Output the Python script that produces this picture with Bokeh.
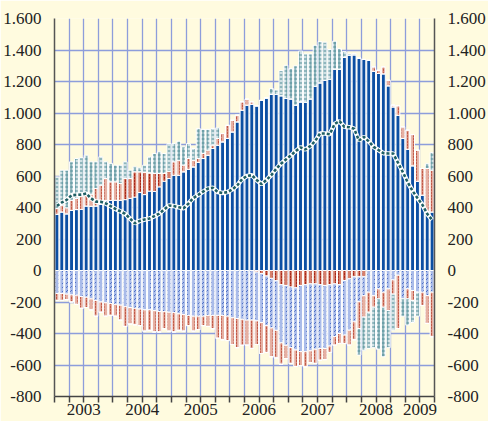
import json
from bokeh.plotting import figure
from bokeh.models import Range1d, FixedTicker, LinearAxis, ColumnDataSource, CustomJSTickFormatter
from bokeh.embed import file_html
from bokeh.resources import INLINE

# ---- data (monthly, Jan 2003 - Jun 2009) ----
years = ["2003", "2004", "2005", "2006", "2007", "2008", "2009"]
year_centers = [6, 18, 30, 42, 54, 66, 75]          # month index at the middle of each year's span
y_ticks = [-800, -600, -400, -200, 0, 200, 400, 600, 800, 1000, 1200, 1400, 1600]
y_labels = ["-800", "-600", "-400", "-200", "0", "200", "400", "600", "800",
            "1.000", "1.200", "1.400", "1.600"]

# positive components
dark_blue = [358, 372, 360, 381, 387, 388, 410, 408, 410, 420, 445, 445,
             446, 446, 450, 458, 466, 495, 482, 504, 502, 531, 567, 584,
             605, 605, 627, 643, 658, 686, 711, 732, 775, 796, 817, 838,
             880, 944, 1018, 1050, 1056, 1046, 1080, 1096, 1120, 1118, 1110, 1092,
             1090, 1050, 1071, 1068, 1090, 1170, 1192, 1208, 1215, 1280, 1278, 1355,
             1367, 1370, 1348, 1340, 1334, 1265, 1251, 1249, 1173, 1039, 986, 838,
             770, 665, 567, 478, 377, 372]
red_pos = [0, 0, 0, 0, 0, 0, 0, 0, 0, 0, 0, 0,
           0, 0, 134, 126, 161, 132, 143, 116, 114, 85, 49, 46,
           0, 0, 0, 0, 0, 0, 0, 0, 0, 0, 0, 0,
           0, 0, 0, 0, 0, 0, 0, 0, 0, 0, 0, 0,
           0, 0, 0, 0, 0, 0, 0, 0, 0, 0, 0, 0,
           0, 0, 0, 0, 0, 0, 0, 0, 0, 0, 0, 0,
           0, 0, 0, 0, 0, 0]
pink_pos = [36, 43, 38, 65, 70, 86, 79, 77, 111, 122, 139, 118,
            117, 106, 0, 0, 0, 0, 0, 0, 0, 0, 0, 0,
            85, 95, 42, 68, 42, 25, 32, 32, 21, 42, 53, 84,
            74, 42, 53, 38, 15, 0, 0, 0, 0, 0, 0, 0,
            0, 0, 0, 0, 0, 0, 0, 0, 0, 0, 0, 0,
            0, 0, 0, 0, 0, 28, 20, 44, 35, 11, 60, 74,
            121, 198, 197, 170, 271, 265]
teal_pos = [200, 222, 239, 244, 254, 242, 243, 205, 169, 180, 106, 117,
            106, 117, 106, 53, 31, 25, 44, 102, 127, 138, 127, 176,
            116, 121, 116, 95, 75, 191, 153, 132, 106, 68, 0, 0,
            0, 0, 0, 0, 0, 0, 0, 0, 36, 28, 160, 211,
            192, 250, 322, 307, 285, 260, 261, 242, 188, 176, 132, 34,
            8, 8, 0, 0, 0, 0, 0, 0, 0, 0, 0, 0,
            0, 0, 0, 0, 30, 112]

# negative components (magnitudes, drawn below zero)
red_neg = [0, 0, 0, 0, 0, 0, 0, 0, 0, 0, 0, 0,
           0, 0, 0, 0, 0, 0, 0, 0, 0, 0, 0, 0,
           0, 0, 0, 0, 0, 0, 0, 0, 0, 0, 0, 0,
           0, 0, 0, 0, 0, 10, 20, 35, 50, 65, 90, 95,
           105, 110, 95, 90, 85, 85, 90, 95, 90, 85, 90, 63,
           53, 40, 40, 40, 0, 0, 0, 0, 0, 0, 0, 0,
           0, 0, 0, 0, 0, 0]
blue_neg = [146, 146, 150, 155, 157, 165, 170, 180, 190, 200, 205, 210,
            215, 220, 230, 235, 240, 245, 250, 250, 255, 260, 262, 265,
            268, 275, 280, 285, 290, 290, 290, 285, 285, 285, 285, 290,
            300, 305, 310, 315, 315, 310, 310, 315, 315, 315, 370, 380,
            385, 395, 420, 426, 425, 415, 405, 400, 390, 335, 310, 347,
            326, 286, 158, 120, 138, 160, 117, 138, 117, 60, 30, 180,
            117, 127, 138, 138, 159, 138]
pink_neg = [44, 44, 35, 45, 58, 75, 65, 70, 100, 65, 85, 75,
            75, 95, 125, 105, 105, 105, 135, 130, 135, 130, 108, 120,
            122, 105, 105, 65, 95, 85, 60, 70, 85, 145, 155, 155,
            170, 185, 165, 159, 180, 150, 197, 170, 183, 175, 135, 85,
            100, 105, 90, 96, 75, 90, 75, 71, 40, 54, 63, 53,
            95, 114, 170, 136, 127, 73, 63, 95, 137, 90, 338, 0,
            63, 63, 0, 84, 177, 283]
teal_neg = [0] * 62 + [169, 210, 230, 257, 320, 315, 236, 229, 0, 110,
                       167, 140, 152, 0, 0, 0]

# net balance (dashed line)
net = [410, 432, 448, 478, 480, 482, 489, 458, 437, 436, 426, 409,
       391, 376, 360, 330, 300, 315, 324, 330, 345, 361, 387, 413,
       409, 402, 395, 425, 460, 480, 501, 520, 525, 498, 492, 498,
       515, 540, 580, 600, 605, 575, 548, 575, 605, 645, 678, 705,
       730, 758, 782, 768, 790, 822, 870, 870, 865, 930, 948, 912,
       910, 900, 825, 848, 820, 785, 765, 745, 743, 743, 685, 625,
       560, 505, 460, 418, 360, 322]

n = len(dark_blue)
xs = [i + 0.5 for i in range(n)]

BG = "#fffbdf"
FONT = "Liberation Serif"

p = figure(frame_width=380, frame_height=378,
           x_range=Range1d(0, n), y_range=Range1d(-800, 1600),
           output_backend="svg", toolbar_location=None,
           min_border_left=47, min_border_right=49, min_border_top=18, min_border_bottom=25,
           background_fill_color=BG, border_fill_color=BG, outline_line_color=None)

# grid
qt = list(range(0, n + 1, 3))
p.xgrid.ticker = FixedTicker(ticks=qt)
p.ygrid.ticker = FixedTicker(ticks=y_ticks)
for g in (p.xgrid, p.ygrid):
    g.grid_line_color = "#8d9ddb"
    g.grid_line_width = 1.3

pos_src = ColumnDataSource(dict(x=xs, db=dark_blue, rp=red_pos, pp=pink_pos, tp=teal_pos))
neg_src = ColumnDataSource(dict(x=xs,
                                rn=[-v for v in red_neg], bn=[-v for v in blue_neg],
                                pn=[-v for v in pink_neg], tn=[-v for v in teal_neg]))

W = 0.8
p.vbar_stack(["db", "rp", "pp", "tp"], x="x", width=W, source=pos_src,
             fill_color=["#0c4fa3", "#d6806c", "#e6b0a2", "#cfe0e4"],
             hatch_pattern=[" ", "vertical_dash", "vertical_dash", "cross"],
             hatch_color=["#0c4fa3", "#a8281a", "#c25a48", "#4d8b95"],
             hatch_scale=[4, 3, 3, 4], hatch_weight=[1, 1, 1, 1],
             line_color="white", line_width=1)
p.vbar_stack(["rn", "bn", "pn", "tn"], x="x", width=W, source=neg_src,
             fill_color=["#d6806c", "#a9bbe9", "#e6b0a2", "#cfe0e4"],
             hatch_pattern=["vertical_dash", "right_diagonal_dash", "vertical_dash", "cross"],
             hatch_color=["#a8281a", "#4f6fc4", "#c25a48", "#4d8b95"],
             hatch_scale=[3, 4, 3, 4], hatch_weight=[1, 1, 1, 1],
             line_color="white", line_width=1)

p.line(xs, net, line_color="white", line_width=4.5)
p.line(xs, net, line_color="#1f5f64", line_width=2.6, line_dash="3 2")

# value axes, left and right (labels via formatters)
ymap = json.dumps({str(t): l for t, l in zip(y_ticks, y_labels)})
ycode = f"const m = {ymap}; const k = String(Math.round(tick)); return (k in m) ? m[k] : k;"
p.yaxis.ticker = FixedTicker(ticks=y_ticks)
p.yaxis.formatter = CustomJSTickFormatter(code=ycode)
right = LinearAxis(ticker=FixedTicker(ticks=y_ticks), formatter=CustomJSTickFormatter(code=ycode))
p.add_layout(right, "right")
for ax in (p.yaxis[0], right):
    ax.major_label_text_font = FONT
    ax.major_label_text_font_size = "17px"
    ax.major_label_text_color = "#222222"
    ax.major_label_standoff = 7
    ax.major_tick_line_color = None
    ax.minor_tick_line_color = None
    ax.axis_line_color = "#555555"
    ax.axis_line_width = 1.5

# bottom axis: quarterly ticks, year labels centred on each year's span
xmap = json.dumps({str(c): y for c, y in zip(year_centers, years)})
p.xaxis.ticker = FixedTicker(ticks=qt)
p.xaxis.formatter = CustomJSTickFormatter(
    code=f"const m = {xmap}; const k = String(Math.round(tick)); return (k in m) ? m[k] : '';")
p.xaxis.major_label_text_font = FONT
p.xaxis.major_label_text_font_size = "17px"
p.xaxis.major_label_text_color = "#222222"
p.xaxis.major_label_standoff = 1
p.xaxis.minor_tick_line_color = None
p.xaxis.major_tick_in = 0
p.xaxis.major_tick_out = 6
p.xaxis.major_tick_line_color = "#444444"
p.xaxis.major_tick_line_width = 1.5
p.xaxis.axis_line_color = "#444444"
p.xaxis.axis_line_width = 1.5

open("out.html", "w").write(file_html(p, INLINE))
